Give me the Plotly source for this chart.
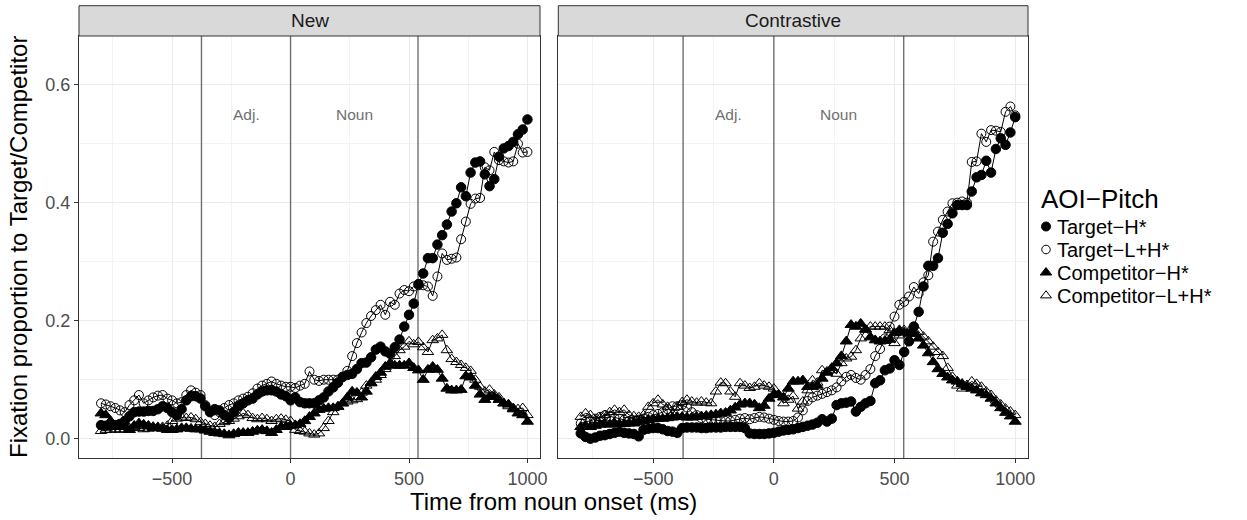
import plotly.graph_objects as go

# ---------------- data ----------------
times = [-800, -780, -760, -740, -720, -700, -680, -660, -640, -620,
         -600, -580, -560, -540, -520, -500, -480, -460, -440, -420,
         -400, -380, -360, -340, -320, -300, -280, -260, -240, -220,
         -200, -180, -160, -140, -120, -100, -80, -60, -40, -20,
         0, 20, 40, 60, 80, 100, 120, 140, 160, 180,
         200, 220, 240, 260, 280, 300, 320, 340, 360, 380,
         400, 420, 440, 460, 480, 500, 520, 540, 560, 580,
         600, 620, 640, 660, 680, 700, 720, 740, 760, 780,
         800, 820, 840, 860, 880, 900, 920, 940, 960, 980,
         1000]

panels = ["New", "Contrastive"]
series_names = ["Target\u2212H*", "Target\u2212L+H*", "Competitor\u2212H*", "Competitor\u2212L+H*"]
legend_title = "AOI\u2212Pitch"

new_target_h = [0.023, 0.022, 0.022, 0.023, 0.025, 0.030, 0.038, 0.045, 0.046, 0.046,
                0.047, 0.047, 0.050, 0.055, 0.052, 0.045, 0.040, 0.050, 0.065, 0.072,
                0.072, 0.068, 0.055, 0.045, 0.050, 0.048, 0.040, 0.035, 0.045, 0.055,
                0.060, 0.065, 0.068, 0.075, 0.080, 0.082, 0.082, 0.080, 0.075, 0.072,
                0.065, 0.070, 0.062, 0.060, 0.060, 0.060, 0.065, 0.070, 0.080, 0.087,
                0.095, 0.105, 0.108, 0.110, 0.118, 0.128, 0.129, 0.138, 0.151, 0.156,
                0.148, 0.144, 0.155, 0.168, 0.190, 0.210, 0.229, 0.262, 0.280, 0.306,
                0.306, 0.329, 0.345, 0.363, 0.385, 0.399, 0.426, 0.411, 0.451, 0.468,
                0.470, 0.448, 0.428, 0.440, 0.478, 0.492, 0.496, 0.503, 0.516, 0.524,
                0.541]
new_target_lh = [0.060, 0.058, 0.055, 0.052, 0.048, 0.045, 0.057, 0.065, 0.074, 0.060,
                 0.065, 0.070, 0.073, 0.074, 0.068, 0.065, 0.060, 0.062, 0.074, 0.082,
                 0.078, 0.074, 0.057, 0.046, 0.040, 0.045, 0.052, 0.057, 0.060, 0.065,
                 0.068, 0.071, 0.077, 0.085, 0.090, 0.093, 0.097, 0.093, 0.090, 0.088,
                 0.088, 0.086, 0.090, 0.093, 0.114, 0.100, 0.098, 0.100, 0.100, 0.100,
                 0.100, 0.104, 0.115, 0.140, 0.162, 0.180, 0.196, 0.208, 0.218, 0.227,
                 0.210, 0.232, 0.227, 0.246, 0.252, 0.250, 0.258, 0.260, 0.260, 0.258,
                 0.242, 0.275, 0.314, 0.303, 0.305, 0.307, 0.338, 0.368, 0.398, 0.407,
                 0.408, 0.460, 0.455, 0.486, 0.472, 0.470, 0.468, 0.470, 0.500, 0.485,
                 0.486]
new_comp_h = [0.043, 0.040, 0.030, 0.022, 0.020, 0.020, 0.015, 0.022, 0.026, 0.024,
              0.022, 0.020, 0.018, 0.017, 0.015, 0.015, 0.016, 0.018, 0.018, 0.017,
              0.016, 0.016, 0.014, 0.012, 0.010, 0.009, 0.008, 0.006, 0.008, 0.010,
              0.010, 0.010, 0.012, 0.014, 0.015, 0.013, 0.010, 0.015, 0.020, 0.020,
              0.022, 0.023, 0.025, 0.030, 0.037, 0.043, 0.049, 0.051, 0.052, 0.052,
              0.054, 0.060, 0.070, 0.080, 0.078, 0.070, 0.080, 0.094, 0.105, 0.112,
              0.122, 0.128, 0.124, 0.124, 0.124, 0.128, 0.120, 0.116, 0.100, 0.117,
              0.122, 0.117, 0.102, 0.085, 0.082, 0.082, 0.083, 0.106, 0.104, 0.090,
              0.075, 0.066, 0.071, 0.071, 0.066, 0.060, 0.058, 0.050, 0.043, 0.040,
              0.029]
new_comp_lh = [0.013, 0.015, 0.015, 0.016, 0.015, 0.016, 0.018, 0.020, 0.018, 0.016,
               0.017, 0.018, 0.020, 0.020, 0.022, 0.030, 0.034, 0.036, 0.035, 0.036,
               0.033, 0.028, 0.025, 0.022, 0.020, 0.025, 0.028, 0.030, 0.034, 0.038,
               0.043, 0.040, 0.035, 0.033, 0.035, 0.033, 0.030, 0.033, 0.034, 0.032,
               0.030, 0.015, 0.013, 0.012, 0.009, 0.007, 0.009, 0.018, 0.030, 0.045,
               0.055, 0.060, 0.063, 0.065, 0.067, 0.078, 0.090, 0.095, 0.100, 0.108,
               0.118, 0.125, 0.140, 0.150, 0.156, 0.165, 0.160, 0.164, 0.155, 0.147,
               0.167, 0.170, 0.176, 0.150, 0.135, 0.130, 0.125, 0.120, 0.115, 0.100,
               0.088, 0.080, 0.083, 0.075, 0.070, 0.060, 0.055, 0.052, 0.050, 0.052,
               0.040]

con_target_h = [0.009, 0.003, 0.000, 0.002, 0.005, 0.006, 0.008, 0.010, 0.012, 0.010,
                0.009, 0.008, 0.004, 0.015, 0.017, 0.018, 0.018, 0.016, 0.013, 0.012,
                0.010, 0.018, 0.019, 0.019, 0.019, 0.018, 0.018, 0.019, 0.019, 0.019,
                0.020, 0.020, 0.020, 0.020, 0.018, 0.009, 0.008, 0.008, 0.008, 0.009,
                0.010, 0.012, 0.014, 0.015, 0.016, 0.018, 0.020, 0.022, 0.024, 0.027,
                0.033, 0.029, 0.034, 0.057, 0.060, 0.061, 0.063, 0.046, 0.054, 0.060,
                0.064, 0.094, 0.099, 0.116, 0.119, 0.133, 0.125, 0.147, 0.165, 0.190,
                0.215, 0.258, 0.293, 0.293, 0.306, 0.349, 0.364, 0.382, 0.396, 0.396,
                0.396, 0.419, 0.443, 0.447, 0.471, 0.451, 0.491, 0.509, 0.498, 0.519,
                0.545]
con_target_lh = [0.026, 0.029, 0.030, 0.034, 0.037, 0.040, 0.038, 0.035, 0.034, 0.032,
                 0.030, 0.030, 0.032, 0.034, 0.037, 0.040, 0.042, 0.045, 0.050, 0.055,
                 0.055, 0.057, 0.053, 0.045, 0.040, 0.035, 0.033, 0.032, 0.032, 0.031,
                 0.030, 0.030, 0.032, 0.034, 0.035, 0.033, 0.035, 0.037, 0.036, 0.034,
                 0.032, 0.030, 0.029, 0.029, 0.030, 0.036, 0.048, 0.064, 0.070, 0.073,
                 0.076, 0.079, 0.082, 0.087, 0.097, 0.105, 0.108, 0.103, 0.100, 0.108,
                 0.118, 0.140, 0.152, 0.170, 0.190, 0.207, 0.227, 0.232, 0.241, 0.257,
                 0.246, 0.265, 0.277, 0.334, 0.351, 0.371, 0.385, 0.399, 0.400, 0.402,
                 0.400, 0.469, 0.470, 0.517, 0.503, 0.523, 0.522, 0.520, 0.554, 0.563,
                 0.548]
con_comp_h = [0.020, 0.022, 0.020, 0.022, 0.024, 0.025, 0.024, 0.026, 0.025, 0.025,
              0.026, 0.026, 0.028, 0.030, 0.032, 0.033, 0.034, 0.034, 0.035, 0.036,
              0.037, 0.037, 0.036, 0.036, 0.037, 0.038, 0.039, 0.040, 0.041, 0.043,
              0.044, 0.048, 0.053, 0.058, 0.060, 0.060, 0.058, 0.052, 0.056, 0.068,
              0.075, 0.074, 0.070, 0.085, 0.097, 0.097, 0.099, 0.088, 0.088, 0.090,
              0.102, 0.112, 0.120, 0.128, 0.140, 0.165, 0.193, 0.190, 0.195, 0.185,
              0.172, 0.167, 0.165, 0.166, 0.168, 0.179, 0.184, 0.180, 0.178, 0.178,
              0.170, 0.158, 0.145, 0.130, 0.118, 0.110, 0.104, 0.099, 0.097, 0.093,
              0.088, 0.085, 0.082, 0.077, 0.074, 0.068, 0.060, 0.052, 0.044, 0.038,
              0.029]
con_comp_lh = [0.037, 0.043, 0.040, 0.032, 0.035, 0.040, 0.045, 0.049, 0.045, 0.049,
               0.040, 0.038, 0.037, 0.040, 0.054, 0.060, 0.066, 0.058, 0.054, 0.042,
               0.054, 0.062, 0.066, 0.063, 0.061, 0.063, 0.061, 0.060, 0.080, 0.095,
               0.094, 0.080, 0.071, 0.094, 0.090, 0.086, 0.088, 0.094, 0.090, 0.088,
               0.085, 0.075, 0.060, 0.066, 0.072, 0.051, 0.063, 0.082, 0.099, 0.095,
               0.116, 0.114, 0.116, 0.110, 0.128, 0.136, 0.139, 0.150, 0.170, 0.185,
               0.190, 0.190, 0.190, 0.190, 0.184, 0.162, 0.175, 0.184, 0.182, 0.184,
               0.181, 0.173, 0.165, 0.156, 0.147, 0.140, 0.120, 0.105, 0.090, 0.085,
               0.091, 0.097, 0.093, 0.088, 0.080, 0.074, 0.065, 0.058, 0.051, 0.046,
               0.040]

region_bounds = [-376, 0, 538]          # vertical reference lines (ms)
region_labels = ["Adj.", "Noun"]
region_label_x = [-188, 269]
region_label_y = 0.55

x_tick_vals = [-500, 0, 500, 1000]
x_tick_text = ["\u2212500", "0", "500", "1000"]
y_tick_vals = [0.0, 0.2, 0.4, 0.6]
y_tick_text = ["0.0", "0.2", "0.4", "0.6"]

# ---------------- styling ----------------
FONT = "Liberation Sans, Arial, Helvetica, sans-serif"
symbols = ["circle", "circle-open", "triangle-up", "triangle-up-open"]
sizes = [9.5, 9, 10.5, 10]

panel_data = {
    "New": [new_target_h, new_target_lh, new_comp_h, new_comp_lh],
    "Contrastive": [con_target_h, con_target_lh, con_comp_h, con_comp_lh],
}

xr = [-893, 1053]
yr = [-0.0327, 0.6825]

# figure geometry (pixels -> paper fractions)
W, H = 1247, 520
ML, MR, MT, MB = 79, 5, 6, 62
PW = W - ML - MR
PH = H - MT - MB
def px_x(p):
    return (p - ML) / PW
def px_y(p):
    return (H - MB - p) / PH

ydom = [0, px_y(36)]
x1dom = [0, px_x(540)]
x2dom = [px_x(558.3), px_x(1028)]
legx_dom = [px_x(1040), px_x(1052)]
legy_dom = [px_y(307), px_y(215)]

fig = go.Figure()

for pi, panel in enumerate(panels):
    xa = "x" if pi == 0 else "x2"
    ya = "y" if pi == 0 else "y2"
    # vertical region boundaries (drawn first so points sit on top)
    vx, vy = [], []
    for xb in region_bounds:
        vx += [xb, xb, None]
        vy += [yr[0], yr[1], None]
    fig.add_trace(go.Scatter(x=vx, y=vy, xaxis=xa, yaxis=ya, mode="lines",
                             line=dict(color="#707070", width=1.4),
                             hoverinfo="skip", showlegend=False))
    for si, vals in enumerate(panel_data[panel]):
        fig.add_trace(go.Scatter(
            x=times, y=vals, xaxis=xa, yaxis=ya,
            mode="lines+markers",
            line=dict(color="black", width=1),
            marker=dict(symbol=symbols[si], size=sizes[si], color="black",
                        line=dict(color="black", width=1)),
            showlegend=False, name=series_names[si],
        ))

# legend keys: one point per series on a categorical axis; labels are the axis tick labels
for si, nm in enumerate(series_names):
    fig.add_trace(go.Scatter(
        x=[0], y=[nm], xaxis="x3", yaxis="y3", mode="markers", name=nm,
        marker=dict(symbol=symbols[si], size=sizes[si] - 0.5, color="black",
                    line=dict(color="black", width=1)),
        showlegend=False, hoverinfo="skip",
    ))

common_x = dict(
    range=xr, tickvals=x_tick_vals, ticktext=x_tick_text,
    ticks="outside", ticklen=4, tickcolor="#333333", tickwidth=1,
    showline=True, mirror=True, linecolor="#333333", linewidth=1,
    showgrid=True, gridcolor="#EBEBEB", gridwidth=1, zeroline=False,
    minor=dict(tickvals=[-750, -250, 250, 750], showgrid=True,
               gridcolor="#F3F3F3", gridwidth=1, ticks=""),
    tickfont=dict(family=FONT, size=18, color="#4D4D4D"),
)
common_y = dict(
    range=yr, domain=ydom, tickvals=y_tick_vals, ticktext=y_tick_text,
    showline=True, mirror=True, linecolor="#333333", linewidth=1,
    showgrid=True, gridcolor="#EBEBEB", gridwidth=1, zeroline=False,
    minor=dict(tickvals=[0.1, 0.3, 0.5], showgrid=True,
               gridcolor="#F3F3F3", gridwidth=1, ticks=""),
    tickfont=dict(family=FONT, size=18, color="#4D4D4D"),
)

fig.update_layout(
    width=W, height=H,
    margin=dict(l=ML, r=MR, t=MT, b=MB, autoexpand=False),
    paper_bgcolor="white", plot_bgcolor="white",
    font=dict(family=FONT, color="black"),
    xaxis=dict(domain=x1dom, anchor="y", **common_x),
    xaxis2=dict(domain=x2dom, anchor="y2", **common_x),
    yaxis=dict(anchor="x", ticks="outside", ticklen=4, tickcolor="#333333",
               showticklabels=True, **common_y),
    yaxis2=dict(anchor="x2", ticks="", showticklabels=False, **common_y),
    xaxis3=dict(domain=legx_dom, anchor="y3", range=[-1, 1], visible=False,
                fixedrange=True),
    yaxis3=dict(domain=legy_dom, anchor="x3", side="right", type="category",
                categoryorder="array", categoryarray=series_names,
                tickmode="array", tickvals=series_names, ticktext=series_names,
                range=[3.5, -0.5], showgrid=False, zeroline=False, showline=False,
                ticks="", ticklabelstandoff=4, fixedrange=True,
                tickfont=dict(family=FONT, size=20, color="black")),
    showlegend=False,
)

shapes = []
annotations = []
for pi, panel in enumerate(panels):
    xa = "x" if pi == 0 else "x2"
    ya = "y" if pi == 0 else "y2"
    for lab, lx in zip(region_labels, region_label_x):
        annotations.append(dict(text=lab, x=lx, y=region_label_y, xref=xa, yref=ya,
                                showarrow=False,
                                font=dict(family=FONT, size=15.5, color="#707070")))
    # facet strip
    shapes.append(dict(type="rect", xref=f"{xa} domain", yref=f"{ya} domain",
                       x0=0, x1=1, y0=1.0, y1=1.0718, layer="above",
                       fillcolor="#D9D9D9", line=dict(color="#333333", width=1)))
    annotations.append(dict(text=panel, xref=f"{xa} domain", yref=f"{ya} domain",
                            x=0.5, y=1.036, yanchor="middle", showarrow=False,
                            font=dict(family=FONT, size=19, color="#1A1A1A")))

annotations.append(dict(text="Time from noun onset (ms)", xref="paper", yref="paper",
                        x=px_x(553.5), y=px_y(502), yanchor="middle", showarrow=False,
                        font=dict(family=FONT, size=24, color="black")))
annotations.append(dict(text="Fixation proportion to Target/Competitor", xref="paper", yref="paper",
                        x=px_x(18), y=px_y(247), textangle=-90, xanchor="center", yanchor="middle",
                        showarrow=False, font=dict(family=FONT, size=24, color="black")))
annotations.append(dict(text=legend_title, xref="paper", yref="paper",
                        x=px_x(1039), y=px_y(199), xanchor="left", yanchor="middle",
                        showarrow=False, font=dict(family=FONT, size=26, color="black")))

fig.update_layout(shapes=shapes, annotations=annotations)

fig.write_html("out.html")
